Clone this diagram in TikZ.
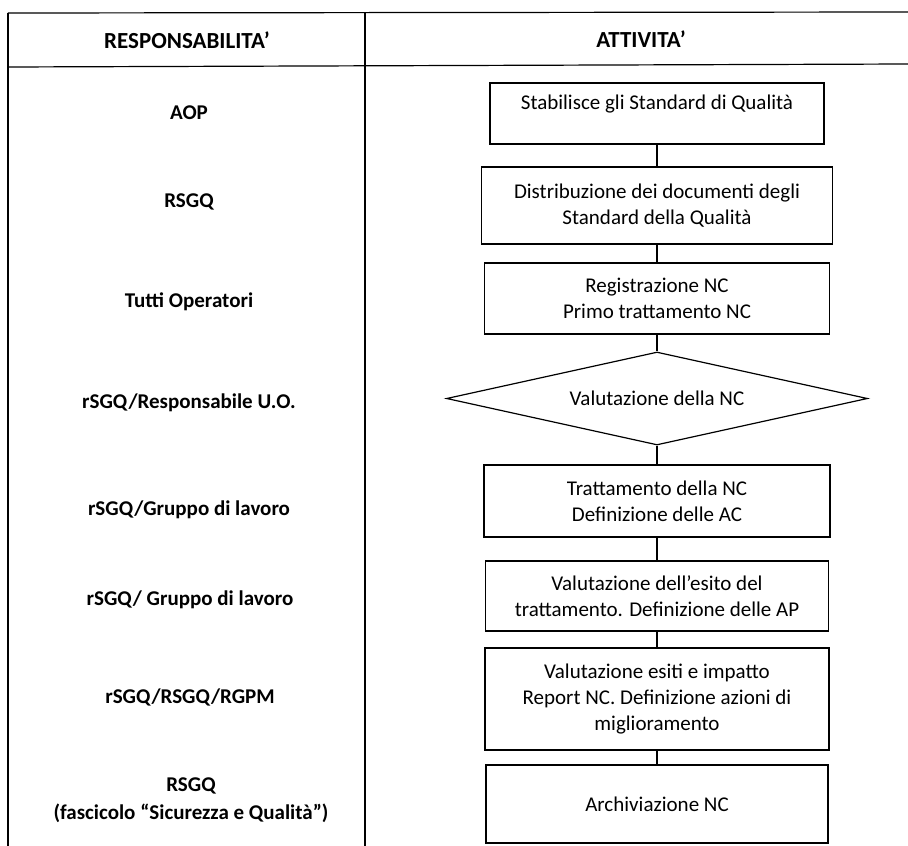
\documentclass[tikz,border=0pt]{standalone}
\usepackage{fontspec}
\setmainfont{Carlito}
\usetikzlibrary{shapes.geometric}

\begin{document}
\begin{tikzpicture}[x=1pt, y=-1pt, line width=1.2pt]
  \tikzstyle{every node} = [font=\fontsize{21}{26}\selectfont,
                            align=center,
                            inner sep=2]
  \tikzstyle{attivita} = [draw, rectangle, inner sep=4]
  \tikzstyle{decisione} = [draw, diamond, shape aspect=4.5, inner sep=0,
                           minimum width=421, minimum height=93]
  \tikzstyle{resp} = [font=\fontsize{21}{28}\selectfont\bfseries]
  \tikzstyle{testata} = [font=\fontsize{23}{28}\selectfont\bfseries]
\tikzset{Connettore/.style={-}}
\useasboundingbox (0,0) rectangle (908,846);

\draw (8,13) -- (908,12);
\draw (8,67) -- (908,64);
\draw (8,13) -- (8,846);
\draw (365,13) -- (365,846);

\node[testata] (R0) at (187,40) {RESPONSABILITA’};
\node[testata] (T0) at (641,39) {ATTIVITA’};

\node[resp] (R1) at (189,113) {AOP};
\node[resp] (R2) at (189,202) {RSGQ};
\node[resp] (R3) at (189,302) {Tutti Operatori};
\node[resp] (R4) at (189,403) {rSGQ/Responsabile U.O.};
\node[resp] (R5) at (189,510) {rSGQ/Gruppo di lavoro};
\node[resp] (R6) at (190,600) {rSGQ/ Gruppo di lavoro};
\node[resp] (R7) at (190,697) {rSGQ/RSGQ/RGPM};
\node[resp] (R8) at (191,800) {RSGQ\\(fascicolo “Sicurezza e Qualità”)};

\node[attivita, minimum width=334, minimum height=61, text depth=22pt] (A1) at (657,113.5)
  {Stabilisce gli Standard di Qualità};
\node[attivita, minimum width=351, minimum height=77] (A2) at (657,205.5)
  {Distribuzione dei documenti degli\\Standard della Qualità};
\node[attivita, minimum width=345, minimum height=71] (A3) at (657,298.5)
  {Registrazione NC\\Primo trattamento NC};
\node[decisione] (A4) at (657,398.5) {Valutazione della NC};
\node[attivita, minimum width=346, minimum height=72] (A5) at (657,501)
  {Trattamento della NC\\Definizione delle AC};
\node[attivita, minimum width=343, minimum height=70] (A6) at (657,596)
  {Valutazione dell’esito del\\trattamento. Definizione delle AP};
\node[attivita, minimum width=344, minimum height=102] (A7) at (657,699)
  {Valutazione esiti e impatto\\Report NC. Definizione azioni di\\miglioramento};
\node[attivita, minimum width=342, minimum height=78] (A8) at (657,804) {Archiviazione NC};

\foreach \a/\b in {A1/A2,A2/A3,A3/A4,A4/A5,A5/A6,A6/A7,A7/A8}
  \draw[Connettore] (\a) -- (\b);

\end{tikzpicture}
\end{document}
